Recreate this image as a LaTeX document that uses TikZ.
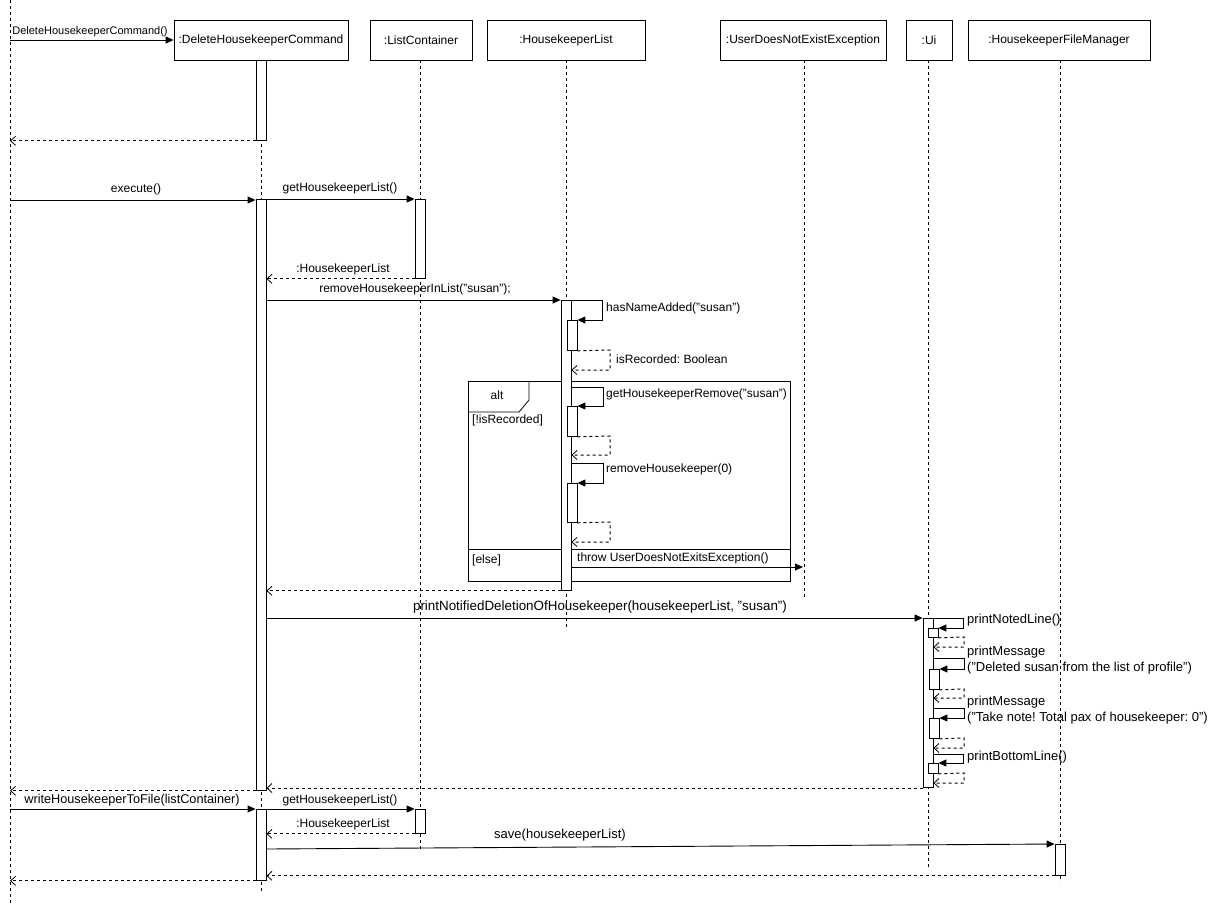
\documentclass[tikz,border=0pt]{standalone}
\usepackage{fontspec}
\setmainfont{Liberation Sans}
\frenchspacing
\usetikzlibrary{arrows.meta,calc}
\tikzset{
  obj/.style={draw,fill=white,line width=0.8pt,inner sep=0pt,minimum height=40pt,font=\fontsize{12}{14}\selectfont},
  life/.style={dash pattern=on 3pt off 3pt,line width=0.7pt},
  actbox/.style={draw,fill=white,line width=0.8pt,inner sep=0pt,minimum width=10pt,anchor=north},
  sync/.style={line width=0.9pt,-{Triangle[length=8pt,width=7pt]}},
  ret/.style={line width=1pt,dash pattern=on 3pt off 3pt,-{Straight Barb[length=5pt,width=9pt,line width=0.8pt]}},
  lbl/.style={font=\fontsize{12}{14}\selectfont,inner sep=0pt},
  lbll/.style={font=\fontsize{13}{15}\selectfont,inner sep=0pt},
  frame/.style={draw,line width=0.8pt}
}
\newcommand{\actv}[4]{\node[actbox,minimum height=#4pt-#3pt] (#1) at (#2,#3) {};}
\begin{document}
\begin{tikzpicture}[x=1pt,y=-1pt]
\useasboundingbox[fill=white] (0,0) rectangle (1210,903);
% objects
\node[obj,minimum width=174pt] (dhc) at (261,40) {:DeleteHousekeeperCommand};
\node[obj,minimum width=102pt] (lc) at (421,40) {:ListContainer};
\node[obj,minimum width=158pt] (hl) at (566,40) {:HousekeeperList};
\node[obj,minimum width=166pt] (ude) at (803,40) {:UserDoesNotExistException};
\node[obj,minimum width=46pt] (ui) at (929,40) {:Ui};
\node[obj,minimum width=182pt] (hfm) at (1059,40) {:HousekeeperFileManager};
% lifelines
\coordinate (L0t) at (10,0);
\coordinate (L0b) at (10,903);
\draw[life] (L0t) -- (L0b);
\coordinate (dhcE) at (261,892);
\coordinate (lcE) at (420,850);
\coordinate (hlE) at (566,630);
\coordinate (udeE) at (804,598);
\coordinate (uiE) at (928,868);
\coordinate (hfmE) at (1060,882);
\draw[life] (261,60) -- (dhcE);
\draw[life] (420,60) -- (lcE);
\draw[life] (566,60) -- (hlE);
\draw[life] (804,60) -- (udeE);
\draw[life] (928,60) -- (uiE);
\draw[life] (1060,60) -- (hfmE);
% alt frame
\draw[frame] (468,381) rectangle (790,581);
\draw[frame] (468,412) -- (519,412) -- (529,400) -- (529,381);
\draw[frame] (468,549) -- (790,549);
\node[lbl] (altl) at (497,395) {alt};
\node[lbl,anchor=west] (cond1) at (472,420) {[!isRecorded]};
\node[lbl,anchor=west] (cond2) at (472,560) {[else]};
% activations
\actv{dhcA1}{261}{60}{140}
\actv{dhcA2}{261}{199}{790}
\actv{dhcA3}{261}{809}{880}
\actv{lcA1}{420}{199}{278}
\actv{lcA2}{420}{809}{833}
\actv{hlA}{566}{300}{590}
\actv{hlN1}{572}{320}{350}
\actv{hlN2}{572}{406}{436}
\actv{hlN3}{572}{483}{522}
\actv{uiA}{928}{618}{787}
\actv{uiN1}{933}{628}{637}
\actv{uiN2}{934}{669}{689}
\actv{uiN3}{934}{718}{738}
\actv{uiN4}{933}{763}{773}
\actv{hfmA}{1060}{844}{875}
% constructor
\draw[sync] (L0t |- 0,40) -- (dhc.west);
\node[lbl,anchor=south,font=\fontsize{11}{13}\selectfont] (m0) at (90,37) {DeleteHousekeeperCommand()};
\draw[ret] (dhcA1.south west) -- (L0t |- dhcA1.south west);
% execute
\draw[sync] (L0t |- 0,200) -- (dhcA2.west |- 0,200);
\node[lbl,anchor=south] (m1) at (136,195) {execute()};
\draw[sync] (dhcA2.east |- lcA1.north) -- (lcA1.north west);
\node[lbl,anchor=south] (m2) at (340,194) {getHousekeeperList()};
\draw[ret] (lcA1.south west) -- (dhcA2.east |- lcA1.south west);
\node[lbl,anchor=south] (m3) at (343,275) {:HousekeeperList};
\draw[sync] (dhcA2.east |- hlA.north) -- (hlA.north west);
\node[lbl,anchor=south] (m4) at (415,295) {removeHousekeeperInList("susan");};
% hasNameAdded
\draw[sync] (hlA.east |- hlA.north) -- (602,300) |- (hlN1.north east);
\node[lbl,anchor=west] (m5) at (606,308) {hasNameAdded("susan")};
\draw[ret] (hlN1.south east) -- (610,350) |- (hlA.east |- 0,370);
\node[lbl,anchor=west] (m6) at (616,359) {isRecorded: Boolean};
% alt branch
\draw[sync] (hlA.east |- 0,387) -- (603,387) |- (hlN2.north east);
\node[lbl,anchor=west] (m7) at (606,394) {getHousekeeperRemove("susan")};
\draw[ret] (hlN2.south east) -- (610,436) |- (hlA.east |- 0,455);
\draw[sync] (hlA.east |- 0,463) -- (603,463) |- (hlN3.north east);
\node[lbl,anchor=west] (m8) at (606,469) {removeHousekeeper(0)};
\draw[ret] (hlN3.south east) -- (610,522) |- (hlA.east |- 0,542);
\draw[sync] (hlA.east |- 0,567) -- (ude.south |- 0,567);
\node[lbl,anchor=west] (m9) at (577,558) {throw UserDoesNotExitsException()};
\draw[ret] (hlA.south west) -- (dhcA2.east |- hlA.south west);
% print
\draw[sync] (dhcA2.east |- uiA.north) -- (uiA.north west);
\node[lbl,anchor=south,font=\fontsize{13.4}{15}\selectfont] (m10) at (600,613) {printNotifiedDeletionOfHousekeeper(housekeeperList, "susan")};
\draw[sync] (uiA.east |- uiA.north) -- (963,618) |- (uiN1.north east);
\node[lbll,anchor=west] (m11) at (967,620) {printNotedLine()};
\draw[ret] (uiN1.south east) -- (964,637) |- (uiA.east |- 0,647);
\draw[sync] (uiA.east |- 0,658) -- (964,658) |- (uiN2.north east);
\node[lbll,anchor=west] (m12a) at (967,652) {printMessage};
\node[lbll,anchor=west] (m12b) at (967,668) {("Deleted susan from the list of profile")};
\draw[ret] (uiN2.south east) -- (964,689) |- (uiA.east |- 0,698);
\draw[sync] (uiA.east |- 0,708) -- (964,708) |- (uiN3.north east);
\node[lbll,anchor=west] (m13a) at (967,702) {printMessage};
\node[lbll,anchor=west] (m13b) at (967,718) {("Take note! Total pax of housekeeper: 0")};
\draw[ret] (uiN3.south east) -- (964,738) |- (uiA.east |- 0,748);
\draw[sync] (uiA.east |- 0,754) -- (963,754) |- (uiN4.north east);
\node[lbll,anchor=west] (m14) at (967,757) {printBottomLine()};
\draw[ret] (uiN4.south east) -- (964,773) |- (uiA.east |- 0,783);
\draw[ret] (uiA.south west |- 0,788) -- (dhcA2.east |- 0,788);
\draw[ret] (dhcA2.south west) -- (L0t |- dhcA2.south west);
% write to file
\draw[sync] (L0t |- dhcA3.north) -- (dhcA3.north west);
\node[lbl,anchor=south,font=\fontsize{12.7}{15}\selectfont] (m15) at (132,806) {writeHousekeeperToFile(listContainer)};
\draw[sync] (dhcA3.east |- lcA2.north) -- (lcA2.north west);
\node[lbl,anchor=south] (m16) at (340,806) {getHousekeeperList()};
\draw[ret] (lcA2.south west) -- (dhcA3.east |- lcA2.south west);
\node[lbl,anchor=south] (m17) at (343,830) {:HousekeeperList};
\draw[sync] (dhcA3.east |- 0,849) -- (hfmA.north west);
\node[lbll,anchor=south] (m18) at (560,841) {save(housekeeperList)};
\draw[ret] (hfmA.south west) -- (dhcA3.east |- hfmA.south west);
\draw[ret] (dhcA3.south west) -- (L0t |- dhcA3.south west);
\end{tikzpicture}
\end{document}
